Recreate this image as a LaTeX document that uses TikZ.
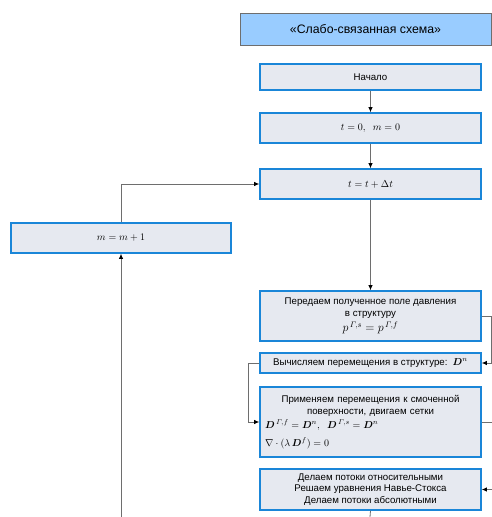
\documentclass[tikz,border=0pt]{standalone}
\usepackage{amsmath,amssymb,bm}
\usepackage{fontspec}
\setmainfont{Liberation Sans}
\usetikzlibrary{arrows.meta}

\definecolor{boxblue}{HTML}{1A86D8}
\definecolor{boxfill}{HTML}{E6E9F0}
\definecolor{titlefill}{HTML}{99CCFF}
\definecolor{linegray}{HTML}{6E6E6E}

\begin{document}
\begin{tikzpicture}[x=1pt,y=-1pt,
    box/.style={draw=boxblue,line width=1.6pt,fill=boxfill,minimum width=221pt,inner sep=2pt,font=\fontsize{9.7}{11.5}\selectfont},
    titlebox/.style={draw=linegray,line width=0.8pt,fill=titlefill,minimum width=251pt,minimum height=32pt,font=\fontsize{12.3}{14}\selectfont},
    link/.style={draw=linegray,line width=0.8pt},
    arr/.style={link,-{Latex[length=5pt,width=4.5pt,color=black]}}]
            \useasboundingbox (0,0) rectangle (492,517);

            \node[titlebox] (title) at (365.5,29) {«Слабо-связанная схема»};

            \node[box,minimum height=26pt] (start) at (370.5,77) {Начало};
            \node[box,minimum height=30pt] (init) at (370.5,128) {$t=0,\;\; m=0$};
            \node[box,minimum height=30pt] (tstep) at (370.5,184) {$t=t+\Delta t$};
            \node[box,minimum height=30pt,minimum width=220pt] (mstep) at (121,238) {$m=m+1$};
            \node[box,minimum height=50pt,align=center] (press) at (370.5,316)
                {Передаем полученное поле давления\\в структуру\\[2pt]
                 {\fontsize{12}{12}\selectfont$p^{\,\varGamma,s}=p^{\,\varGamma,f}$}};
            \node[box,minimum height=20pt] (displ) at (370.5,363)
                {Вычисляем перемещения в структуре:\, $\bm{D}^n$};
            \node[box,minimum height=70pt,text width=211pt] (mesh) at (370.5,422)
                {{\centering Применяем перемещения к смоченной\\поверхности, двигаем сетки\par}
                 \vspace{3pt}\raggedright
                 $\bm{D}^{\,\varGamma,f}=\bm{D}^n,\;\; \bm{D}^{\,\varGamma,s}=\bm{D}^n$\\[6pt]
                 $\nabla\cdot(\lambda\,\bm{D}^f)=0$};
            \node[box,minimum height=41pt,align=center] (flow) at (370.5,489.5)
                {Делаем потоки относительными\\Решаем уравнения Навье-Стокса\\Делаем потоки абсолютными};

            \coordinate (mend) at (121,517);
            \coordinate (fend) at (370,517);

            \path [arr] (start) edge (init);
            \path [arr] (init) edge (tstep);
            \path [arr] (mstep.north) |- (tstep.west);
            \path [arr] (mend) -- (mstep.south);
            \path [arr] (tstep) edge (press);
            \path [arr] (press.east) -- ++(10,0) |- (displ.east);
            \path [arr] (displ.west) -- ++(-11,0) |- (mesh.west);
            \path [arr] (mesh.east) -- ++(10.5,0) |- (flow.east);
            \path [link] (flow.south) -- (fend);
        \end{tikzpicture}
\end{document}
